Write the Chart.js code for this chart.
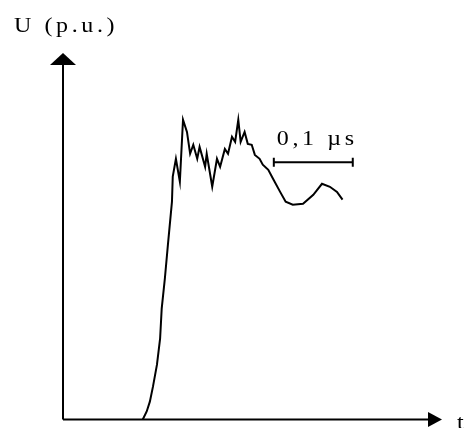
<!DOCTYPE html>
<html>
<head>
<meta charset="utf-8">
<script src="https://cdn.jsdelivr.net/npm/chart.js@4/dist/chart.umd.min.js"></script>
<style>
  body { margin: 0; background: #fff; }
  canvas { display: block; }
</style>
</head>
<body>
<canvas id="surgeChart" width="465" height="428"></canvas>
<script>
// time in µs, voltage in p.u.
const tValues = [0.101, 0.106, 0.110, 0.114, 0.119, 0.123, 0.125, 0.129, 0.133, 0.138,
  0.139, 0.143, 0.148, 0.152, 0.157, 0.161, 0.165, 0.170, 0.173, 0.180,
  0.182, 0.189, 0.195, 0.199, 0.205, 0.209, 0.214, 0.218, 0.222, 0.225,
  0.230, 0.234, 0.239, 0.243, 0.249, 0.253, 0.260, 0.266, 0.275, 0.282,
  0.291, 0.304, 0.317, 0.328, 0.338, 0.347, 0.354];
const uValues = [0, 0.027, 0.060, 0.111, 0.184, 0.272, 0.372, 0.473, 0.590, 0.731,
  0.815, 0.875, 0.798, 1.006, 0.965, 0.892, 0.922, 0.875, 0.915, 0.848,
  0.892, 0.781, 0.875, 0.848, 0.908, 0.892, 0.949, 0.932, 1.006, 0.932,
  0.965, 0.925, 0.922, 0.888, 0.875, 0.855, 0.838, 0.808, 0.764, 0.731,
  0.721, 0.724, 0.754, 0.791, 0.781, 0.764, 0.738];
// 0,1 µs scale bar
const barT = [0.267, 0.367];
const barU = [0.863, 0.863];
const barLabel = '0,1 µs';
const yLabel = 'U (p.u.)';
const xLabel = 't';

var black = '#000';
var font = '20px "Liberation Serif", "DejaVu Serif", serif';

const curvePoints = tValues.map((t, i) => ({ x: t, y: uValues[i] }));
const barPoints = barT.map((t, i) => ({ x: t, y: barU[i] }));

// wide, typewriter-like label
function wideText(ctx, text, x, y) {
  ctx.save();
  ctx.translate(x, y);
  ctx.scale(1.2, 1);
  ctx.letterSpacing = '3px';
  ctx.fillText(text, 0, 0);
  ctx.restore();
}

//----------------axes with arrows and labels
const axesPlugin = {
  id: 'axesPlugin',
  beforeDatasetsDraw(chart) {
    const ctx = chart.ctx;
    const xs = chart.scales.x, ys = chart.scales.y;
    const x0 = xs.getPixelForValue(0);
    const y0 = ys.getPixelForValue(0);
    const top = chart.chartArea.top;
    const right = chart.chartArea.right;
    ctx.save();
    ctx.strokeStyle = black;
    ctx.fillStyle = black;
    ctx.lineWidth = 2;
    ctx.beginPath();
    ctx.moveTo(x0, y0);
    ctx.lineTo(x0, top + 6);
    ctx.moveTo(x0, y0);
    ctx.lineTo(right - 6, y0);
    ctx.stroke();
    // y arrow
    ctx.beginPath();
    ctx.moveTo(x0, top);
    ctx.lineTo(x0 - 13, top + 12);
    ctx.lineTo(x0 + 13, top + 12);
    ctx.closePath();
    ctx.fill();
    // x arrow
    ctx.beginPath();
    ctx.moveTo(right, y0);
    ctx.lineTo(right - 14, y0 - 7.5);
    ctx.lineTo(right - 14, y0 + 7.5);
    ctx.closePath();
    ctx.fill();
    ctx.restore();
  },
  afterDraw(chart) {
    const ctx = chart.ctx;
    const xs = chart.scales.x, ys = chart.scales.y;
    ctx.save();
    ctx.fillStyle = black;
    ctx.font = font;
    ctx.textBaseline = 'alphabetic';
    ctx.textAlign = 'left';
    wideText(ctx, yLabel, 14, 32);
    wideText(ctx, barLabel, xs.getPixelForValue(barT[0]) + 3, ys.getPixelForValue(barU[0]) - 17);
    wideText(ctx, xLabel, 457, 429);
    ctx.restore();
  }
};

new Chart(
  document.getElementById('surgeChart'), {
    type: 'scatter',
    data: {
      datasets: [{
        data: curvePoints,
        showLine: true,
        borderColor: black,
        borderWidth: 2,
        pointRadius: 0,
        tension: 0
      }, {
        data: barPoints,
        showLine: true,
        borderColor: black,
        borderWidth: 2,
        pointStyle: 'line',
        rotation: 90,
        pointRadius: 4.5,
        pointBorderColor: black,
        pointBorderWidth: 2
      }]
    },
    options: {
      responsive: false,
      animation: false,
      layout: { padding: { left: 63, right: 23, top: 53, bottom: 8.5 } },
      plugins: { legend: { display: false }, tooltip: { enabled: false } },
      scales: {
        x: { type: 'linear', display: false, min: 0, max: 0.48 },
        y: { type: 'linear', display: false, min: 0, max: 1.23 }
      }
    },
    plugins: [axesPlugin]
  }
);
</script>
</body>
</html>
